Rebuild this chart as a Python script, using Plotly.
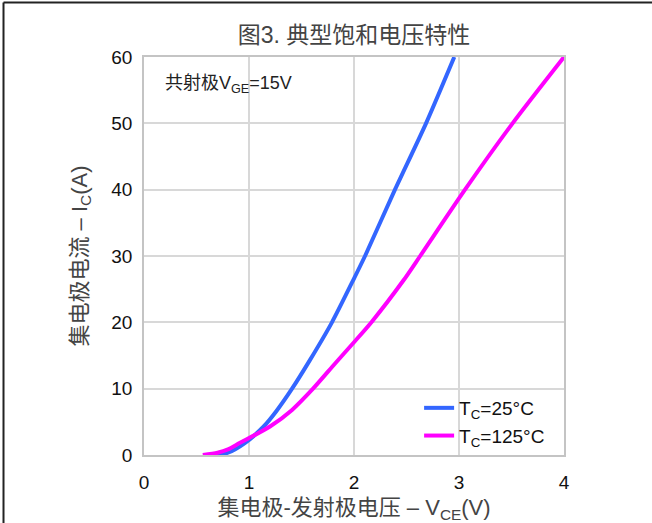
import plotly.graph_objects as go

# Typical saturation characteristics: collector current vs. collector-emitter voltage
vce_25 = [0.69, 0.80, 0.96, 1.14, 1.26, 1.41, 1.58, 1.79, 2.00, 2.105, 2.39, 2.686, 2.955]
ic_25 = [0.0, 0.35, 1.8, 4.3, 6.6, 10.0, 14.3, 20.0, 26.6, 30.0, 40.0, 50.0, 60.0]

vce_125 = [0.56, 0.70, 0.80, 0.91, 1.20, 1.41, 1.61, 1.82, 2.00, 2.17, 2.47, 2.63, 3.057, 3.51, 4.00]
ic_125 = [0.0, 0.35, 0.85, 1.8, 4.3, 6.8, 10.0, 13.8, 17.0, 20.1, 26.3, 30.0, 40.0, 50.0, 60.0]

x_ticks = [0, 1, 2, 3, 4]
y_ticks = [0, 10, 20, 30, 40, 50, 60]

FONT = "Liberation Sans, Arial, Noto Sans CJK SC, sans-serif"

fig = go.Figure()
fig.add_trace(go.Scatter(
    x=vce_25, y=ic_25, mode="lines", name="T<sub>C</sub>=25°C",
    line=dict(color="#3366ff", width=4, shape="spline", smoothing=0.7),
))
fig.add_trace(go.Scatter(
    x=vce_125, y=ic_125, mode="lines", name="T<sub>C</sub>=125°C",
    line=dict(color="#ff00ff", width=4, shape="spline", smoothing=0.7),
))

axis_common = dict(
    showline=True, linecolor="#c4c4c4", linewidth=1.5, mirror=True,
    showgrid=True, gridcolor="#d8d8d8", gridwidth=1.5,
    zeroline=False, ticks="", automargin=False,
    tickfont=dict(size=19, color="#111", family=FONT),
)

fig.update_layout(
    width=652, height=523,
    margin=dict(l=144, r=88, t=57, b=68),
    paper_bgcolor="white", plot_bgcolor="white",
    font=dict(family=FONT, color="#222"),
    title=dict(text="图3. 典型饱和电压特性", x=0.5, xanchor="center", xref="paper",
               y=1 - 35 / 523, yanchor="middle", font=dict(size=23, color="#444")),
    xaxis=dict(range=[0, 4], tickvals=x_ticks, ticklabelstandoff=9,
               title=dict(text="集电极-发射极电压 – V<sub>CE</sub>(V)", standoff=10,
                          font=dict(size=22, color="#444")),
               **axis_common),
    yaxis=dict(range=[0, 60], tickvals=y_ticks, ticklabelstandoff=6,
               title=dict(text="集电极电流 – I<sub>C</sub>(A)", standoff=18,
                          font=dict(size=22, color="#444")),
               **axis_common),
    legend=dict(x=0.655, y=0.0, xanchor="left", yanchor="bottom",
                bgcolor="rgba(0,0,0,0)", font=dict(size=19, color="#111"),
                itemwidth=30),
    showlegend=True,
)

fig.add_annotation(
    text="共射极V<sub>GE</sub>=15V", xref="paper", yref="paper",
    x=0.045, y=0.93, xanchor="left", yanchor="middle", showarrow=False,
    font=dict(size=18, color="#222"),
)

# Dark frame lines along the top and left edges of the figure
fig.add_shape(type="line", xref="paper", yref="paper",
              x0=-0.3345, x1=1.3, y0=1.137, y1=1.137, line=dict(color="#222", width=2))
fig.add_shape(type="line", xref="paper", yref="paper",
              x0=-0.3345, x1=-0.3345, y0=-0.3, y1=1.137, line=dict(color="#222", width=2))

fig.write_html("out.html")
